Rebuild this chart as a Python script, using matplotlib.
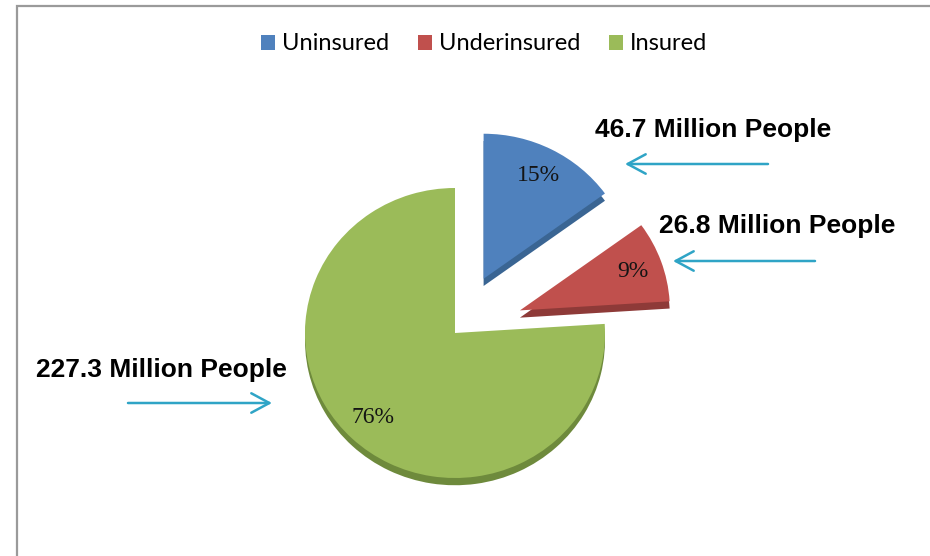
import matplotlib.pyplot as plt
from matplotlib.patches import Rectangle, Patch

# Coverage groups (percent of population) and the head counts behind them
groups = ["Uninsured", "Underinsured", "Insured"]
shares = [15, 9, 76]
people = ["46.7 Million People", "26.8 Million People", "227.3 Million People"]

face_colors = ["#4F81BD", "#C0504D", "#9BBB59"]
side_colors = ["#3A6593", "#8E3A38", "#6E8A3C"]
arrow_color = "#2FA4C6"

W, H = 930, 556
fig = plt.figure(figsize=(W / 100, H / 100), dpi=100)
fig.patch.set_facecolor("white")

# pie axes: centre at (455, 333) px; slightly flattened to look tilted
cx, cy, rx, ry = 455, 333, 150, 145
ax = fig.add_axes([0, 0, 1, 1])
ax.axis("off")

explode = [0.42, 0.46, 0.0]

# darker copy shifted down gives the slab edge of the 3-D pie
ax.pie(shares, explode=explode, colors=side_colors, startangle=90,
       counterclock=False, center=(0, -0.05), radius=1,
       wedgeprops=dict(linewidth=0))
wedges, _, pct = ax.pie(shares, explode=explode, colors=face_colors, startangle=90,
                        counterclock=False, radius=1, autopct="%d%%",
                        pctdistance=0.8,
                        wedgeprops=dict(linewidth=0),
                        textprops=dict(family="Liberation Serif", fontsize=17,
                                       color="#141414"))
ax.set_aspect("auto")
ax.set_xlim(-cx / rx, (W - cx) / rx)
ax.set_ylim((cy - H) / ry, cy / ry)

# outer chart border (cut off on the right and bottom)
fig.add_artist(Rectangle((16.5 / W, -0.05), 1.2, 1.05 - 5.5 / H,
                         transform=fig.transFigure, fill=False,
                         edgecolor="#9a9a9a", linewidth=1.6, clip_on=False))

# legend across the top
handles = [Patch(facecolor=c, edgecolor="none") for c in face_colors]
fig.legend(handles, groups, loc="center", ncol=3,
           bbox_to_anchor=(484 / W, 1 - 44 / H), frameon=False,
           prop=dict(family="Lato", size=17), handlelength=0.6,
           handleheight=0.6, handletextpad=0.3, columnspacing=1.2)

# callouts: label text (baseline, px from top) and arrow from tail to tip
callouts = [
    (people[0], (713, 137), (768, 164), (625, 164)),
    (people[1], (777, 233), (815, 261), (673, 261)),
    (people[2], (161, 377), (128, 403), (272, 403)),
]
for text, (tx, ty), (x0, y0), (x1, y1) in callouts:
    fig.text(tx / W, 1 - ty / H, text, ha="center", va="baseline",
             family="Liberation Sans", weight="bold", fontsize=19,
             color="black")
    ax.annotate("", xy=(x1, H - y1), xycoords="figure pixels",
                xytext=(x0, H - y0), textcoords="figure pixels",
                arrowprops=dict(arrowstyle="->,head_length=1.3,head_width=0.7",
                                mutation_scale=10, color=arrow_color,
                                linewidth=1.8, shrinkA=0, shrinkB=0))

fig.savefig("out.png", dpi=100)
